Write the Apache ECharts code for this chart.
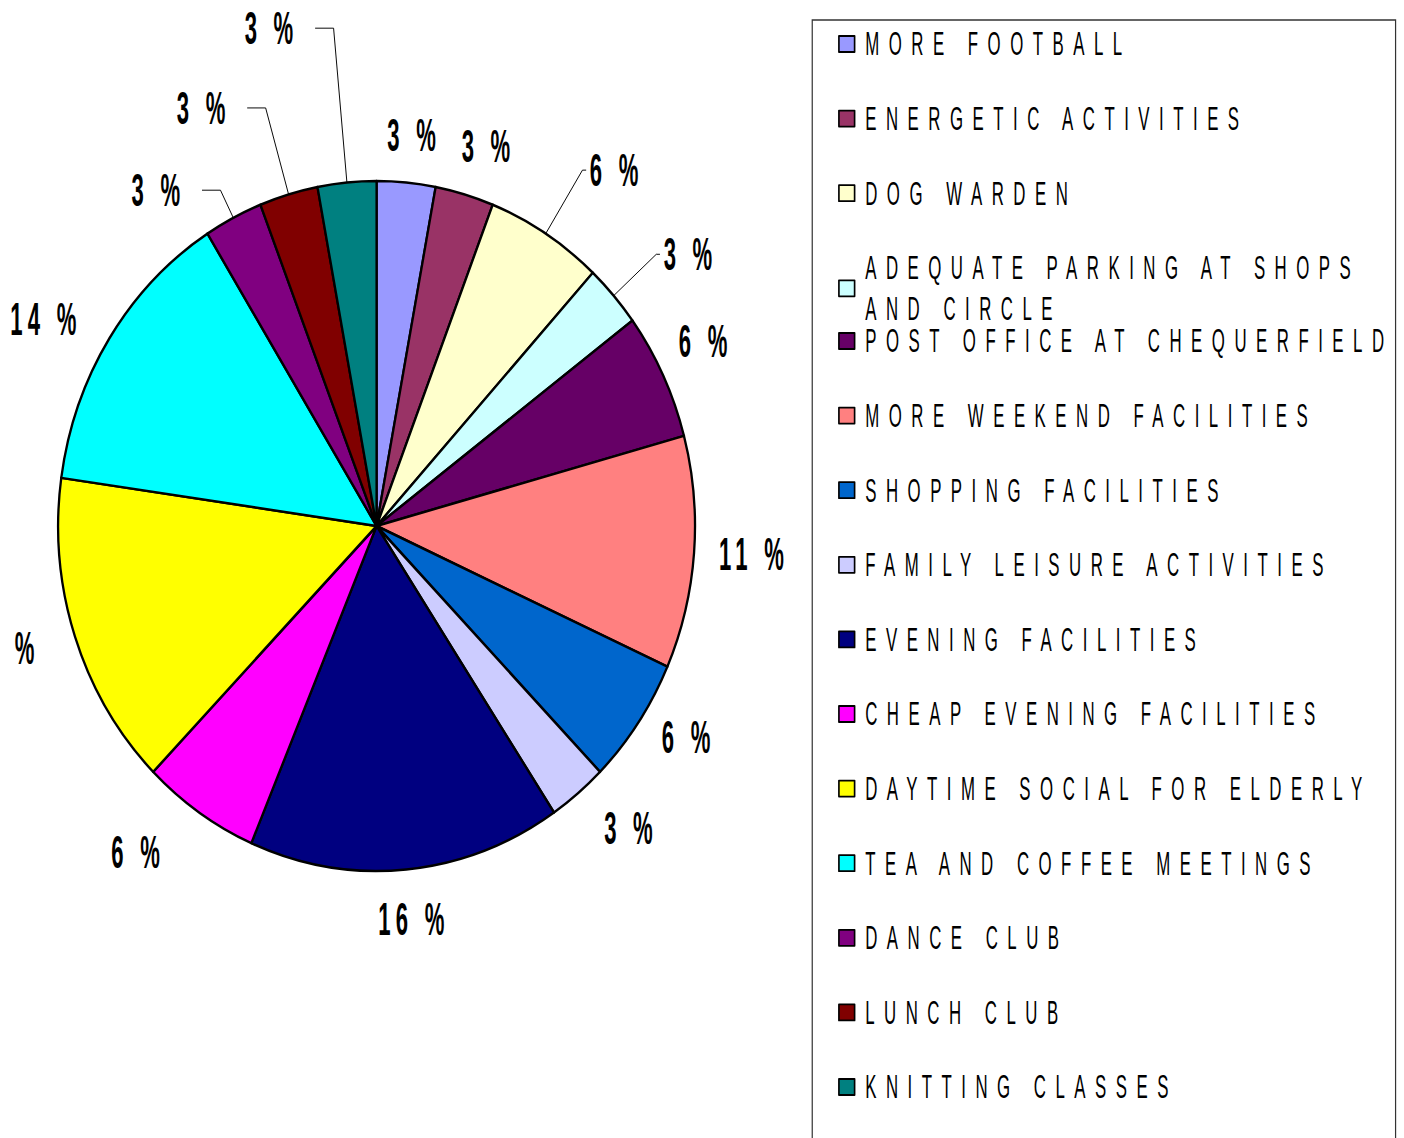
<!DOCTYPE html>
<html>
<head>
<meta charset="utf-8">
<title>Facilities wanted</title>
<script src="https://cdn.jsdelivr.net/npm/echarts@6/dist/echarts.min.js"></script>
<style>
    html, body { margin: 0; padding: 0; background: #fff; overflow: hidden; }
    #wrap { width: 1404px; height: 1138px; overflow: hidden; }
    /* the original picture is squeezed sideways, so the whole chart is too */
    #chart { width: 1521px; height: 1138px; transform: scaleX(0.923); transform-origin: 0 0; }
    #chart text { letter-spacing: 19.2px; }
    #chart text[style*="bold"] { letter-spacing: 11px; }
</style>
</head>
<body>
<div id="wrap"><div id="chart"></div></div>
<script>
var categories = [
    'MORE FOOTBALL',
    'ENERGETIC ACTIVITIES',
    'DOG WARDEN',
    'ADEQUATE PARKING AT SHOPS AND CIRCLE',
    'POST OFFICE AT CHEQUERFIELD',
    'MORE WEEKEND FACILITIES',
    'SHOPPING FACILITIES',
    'FAMILY LEISURE ACTIVITIES',
    'EVENING FACILITIES',
    'CHEAP EVENING FACILITIES',
    'DAYTIME SOCIAL FOR ELDERLY',
    'TEA AND COFFEE MEETINGS',
    'DANCE CLUB',
    'LUNCH CLUB',
    'KNITTING CLASSES'
];
// percent, as printed on the slices
var values = [3, 3, 6, 3, 6, 11, 6, 3, 16, 6, 15, 14, 3, 3, 3];
var colors = [
    '#9999FF', '#993366', '#FFFFCC', '#CCFFFF', '#660066',
    '#FF8080', '#0066CC', '#CCCCFF', '#000080', '#FF00FF',
    '#FFFF00', '#00FFFF', '#800080', '#800000', '#008080'
];

// label placement: [line length, second length, show line, gap to label]
var leaders = [
    [48, 0, false, -25],
    [50, 0, false, -17],
    [75, 4, true, 4],
    [62, 4, true, 4],
    [80, 0, false, -55],
    [22, 0, false, 5],
    [25, 0, false, 5],
    [45, 0, false, 0],
    [50, 0, false, -35],
    [48, 0, false, 10],
    [35, 0, false, 5],
    [36, 0, false, 0],
    [31, 20, true, 18],
    [90, 20, true, 18],
    [155, 20, true, 18]
];

var font = "'Liberation Sans', Arial, sans-serif";
// the text is very condensed in the original
var squeezeLegend = 0.536, squeezeLabel = 0.52;

var pieData = [];
for (var i = 0; i < categories.length; i++) {
    var ld = leaders[i];
    pieData.push({
        name: categories[i],
        value: values[i],
        itemStyle: { color: colors[i] },
        label: { distanceToLabelLine: ld[3] },
        labelLine: { show: ld[2], length: ld[0], length2: ld[1] }
    });
}

function legendItems(from, to) {
    var out = [];
    for (var i = from; i < to; i++) {
        var it = { name: categories[i] };
        if (categories[i].indexOf(' AND CIRCLE') > 0) {
            // wrapped item, icon stays on the first line
            it.textStyle = { lineHeight: 41, height: 41 };
        }
        out.push(it);
    }
    return out;
}

var legendBase = {
    orient: 'vertical',
    left: 908,
    padding: 0,
    itemWidth: 17,
    itemHeight: 16,
    itemGap: 40.6,
    icon: 'rect',
    selectedMode: false,
    itemStyle: { borderColor: '#000', borderWidth: 1.8 },
    textStyle: { fontFamily: font, fontSize: 34, color: '#000', padding: [0, 0, 0, 6.5] },
    formatter: function (name) {
        return name.replace(' SHOPS ', ' SHOPS\n');
    }
};

var chart = echarts.init(document.getElementById('chart'), null, { renderer: 'svg' });

chart.setOption({
    animation: false,
    backgroundColor: '#fff',
    graphic: [{
        type: 'rect',
        shape: { x: 880, y: 20, width: 632, height: 1200 },
        style: { fill: 'none', stroke: '#333', lineWidth: 1.3 },
        silent: true
    }],
    legend: [
        Object.assign({}, legendBase, { top: 27, data: legendItems(0, 4) }),
        Object.assign({}, legendBase, { top: 324, data: legendItems(4, categories.length) })
    ],
    series: [{
        type: 'pie',
        center: [408, 526],
        radius: 345,
        startAngle: 90,
        clockwise: true,
        avoidLabelOverlap: false,
        emphasis: { disabled: true },
        itemStyle: { borderColor: '#000', borderWidth: 2.5 },
        label: {
            show: true,
            position: 'outside',
            fontFamily: font,
            fontWeight: 'bold',
            fontSize: 46,
            color: '#000',
            formatter: function (p) { return p.value + ' %'; }
        },
        labelLine: { lineStyle: { color: '#000', width: 1 } },
        data: pieData
    }]
});

// narrow every text around its own anchor point
function squeeze() {
    var texts = document.querySelectorAll('#chart svg text');
    for (var i = 0; i < texts.length; i++) {
        var t = texts[i];
        if (t.getAttribute('data-sq')) continue;
        var bold = (t.getAttribute('style') || '').indexOf('bold') >= 0;
        var k = bold ? squeezeLabel : squeezeLegend;
        var x = parseFloat(t.getAttribute('x')) || 0;
        var y = parseFloat(t.getAttribute('y')) || 0;
        var tr = t.getAttribute('transform') || '';
        t.setAttribute('transform', tr + ' translate(' + x + ' ' + y + ') scale(' + k + ' 1) translate(' + (-x) + ' ' + (-y) + ')');
        t.setAttribute('data-sq', '1');
    }
}
squeeze();
setTimeout(squeeze, 30);
</script>
</body>
</html>
